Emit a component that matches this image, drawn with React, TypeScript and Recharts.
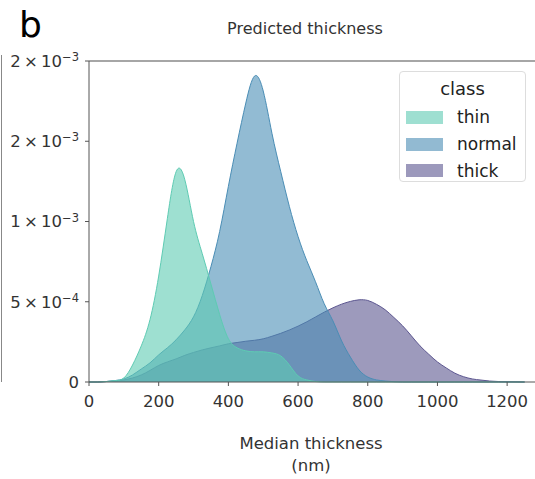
import { Area, AreaChart, ReferenceLine, XAxis, YAxis } from "recharts";

const FONT = "'DejaVu Sans', sans-serif";

// thickness grid (nm)
const thickness = [
  0, 25, 50, 75, 100, 125, 150, 175, 200, 225, 250, 275, 300, 325, 350, 375, 400, 425, 450, 475,
  500, 525, 550, 575, 600, 625, 650, 675, 700, 725, 750, 775, 800, 825, 850, 875, 900, 925, 950,
  975, 1000, 1025, 1050, 1075, 1100, 1125, 1150, 1175, 1200, 1225, 1250,
];

// densities in units of 1e-4
const thin = [
  0, 0, 0.03, 0.09, 0.25, 1.06, 2.25, 3.88, 6.6, 10.2, 13.1, 12.6, 10.0, 8.0, 6.1, 4.2, 2.7,
  2.13, 1.94, 1.88, 1.88, 1.81, 1.63, 1.06, 0.38, 0.13, 0.03, 0, 0, 0, 0, 0, 0, 0, 0, 0, 0, 0, 0,
  0, 0, 0, 0, 0, 0, 0, 0, 0, 0, 0, 0,
];
const normal = [
  0, 0, 0.03, 0.09, 0.19, 0.44, 0.81, 1.19, 1.69, 2.13, 2.63, 3.25, 4.06, 5.38, 7.19, 9.38, 12.19,
  14.88, 17.38, 19.06, 18.13, 15.5, 13.13, 10.94, 9.06, 7.56, 6.25, 4.88, 3.81, 2.56, 1.56, 0.75,
  0.31, 0.13, 0.06, 0.02, 0, 0, 0, 0, 0, 0, 0, 0, 0, 0, 0, 0, 0, 0, 0,
];
const thick = [
  0, 0, 0.03, 0.06, 0.13, 0.25, 0.44, 0.72, 1.03, 1.25, 1.44, 1.66, 1.84, 2.0, 2.13, 2.25, 2.38,
  2.46, 2.54, 2.6, 2.69, 2.85, 3.03, 3.24, 3.48, 3.75, 4.05, 4.35, 4.62, 4.85, 5.02, 5.12, 5.08,
  4.84, 4.5, 4.02, 3.5, 2.88, 2.25, 1.73, 1.25, 0.88, 0.55, 0.33, 0.19, 0.12, 0.06, 0.03, 0.02,
  0.01, 0,
];

const classes = ["thin", "normal", "thick"];
const colors: Record<string, string> = { thin: "#5ECBB3", normal: "#4A8DB5", thick: "#5C5690" };

const xTicks = [0, 200, 400, 600, 800, 1000, 1200];
const yTicks = [0, 0.0005, 0.001, 0.0015, 0.002];
const yTickMantissa = ["0", "5", "1", "2", "2"];
const yTickExponent = ["", "\u22124", "\u22123", "\u22123", "\u22123"];

const rows = thickness.map((x, i) => ({
  x,
  thin: thin[i] * 1e-4,
  normal: normal[i] * 1e-4,
  thick: thick[i] * 1e-4,
}));

function YTick(props: any) {
  const { x, y, payload } = props;
  const i = yTicks.indexOf(payload.value);
  const exp = yTickExponent[i];
  return (
    <text x={x} y={y} textAnchor="end" fill="#333" fontFamily={FONT} fontSize={16.5}>
      <tspan dy="0.36em">{exp ? `${yTickMantissa[i]}\u2009×\u200910` : yTickMantissa[i]}</tspan>
      {exp && (
        <tspan dy="-0.5em" fontSize={11.5}>
          {exp}
        </tspan>
      )}
    </text>
  );
}

function ClassLegend() {
  return (
    <div
      style={{
        position: "absolute",
        left: 399,
        top: 71,
        width: 127,
        height: 111,
        border: "1px solid #ddd",
        borderRadius: 4,
        background: "rgba(255,255,255,0.85)",
        fontFamily: FONT,
        color: "#222",
        boxSizing: "border-box",
      }}
    >
      <div style={{ textAlign: "center", fontSize: 18, lineHeight: "20px", marginTop: 7, marginBottom: 5 }}>
        class
      </div>
      {classes.map((c) => (
        <div key={c} style={{ display: "flex", alignItems: "center", height: 26.7 }}>
          <span
            style={{
              display: "inline-block",
              width: 37,
              height: 13,
              marginLeft: 6,
              background: colors[c],
              opacity: 0.6,
              border: `1px solid ${colors[c]}`,
              boxSizing: "border-box",
            }}
          />
          <span style={{ marginLeft: 14, fontSize: 17 }}>{c}</span>
        </div>
      ))}
    </div>
  );
}

export default function App() {
  return (
    <div style={{ position: "absolute", left: 0, top: 0, width: 535, height: 479, background: "#fff" }}>
      <div style={{ position: "absolute", left: 19, top: 7, fontFamily: FONT, fontSize: 36, lineHeight: 1 }}>b</div>
      <div
        style={{
          position: "absolute",
          left: 205,
          width: 200,
          top: 21,
          textAlign: "center",
          fontFamily: FONT,
          fontSize: 16,
          lineHeight: 1,
          color: "#333",
        }}
      >
        Predicted thickness
      </div>
      <div style={{ position: "absolute", left: 1, top: 55, width: 1, height: 327, background: "#888" }} />
      <AreaChart width={535} height={479} data={rows} margin={{ top: 61, right: 0, bottom: 67, left: 0 }}>
        <XAxis
          dataKey="x"
          type="number"
          domain={[0, 1280]}
          ticks={xTicks}
          tickSize={4}
          tickMargin={9}
          stroke="#555"
          tick={{ fill: "#333", fontSize: 16.5, fontFamily: FONT }}
          height={30}
        />
        <YAxis
          type="number"
          domain={[0, 0.002]}
          ticks={yTicks}
          width={89}
          tickSize={4}
          tickMargin={6}
          stroke="#555"
          tick={<YTick />}
        />
        <ReferenceLine y={0.002} stroke="#888" strokeWidth={1.5} />
        {["thick", "normal", "thin"].map((c) => (
          <Area
            key={c}
            dataKey={c}
            type="natural"
            fill={colors[c]}
            fillOpacity={0.6}
            stroke={colors[c]}
            strokeWidth={1}
            isAnimationActive={false}
            dot={false}
            activeDot={false}
          />
        ))}
      </AreaChart>
      <ClassLegend />
      <div
        style={{
          position: "absolute",
          left: 211,
          width: 200,
          top: 433,
          textAlign: "center",
          fontFamily: FONT,
          fontSize: 16.5,
          lineHeight: "22px",
          color: "#333",
        }}
      >
        Median thickness
        <br />
        (nm)
      </div>
    </div>
  );
}
